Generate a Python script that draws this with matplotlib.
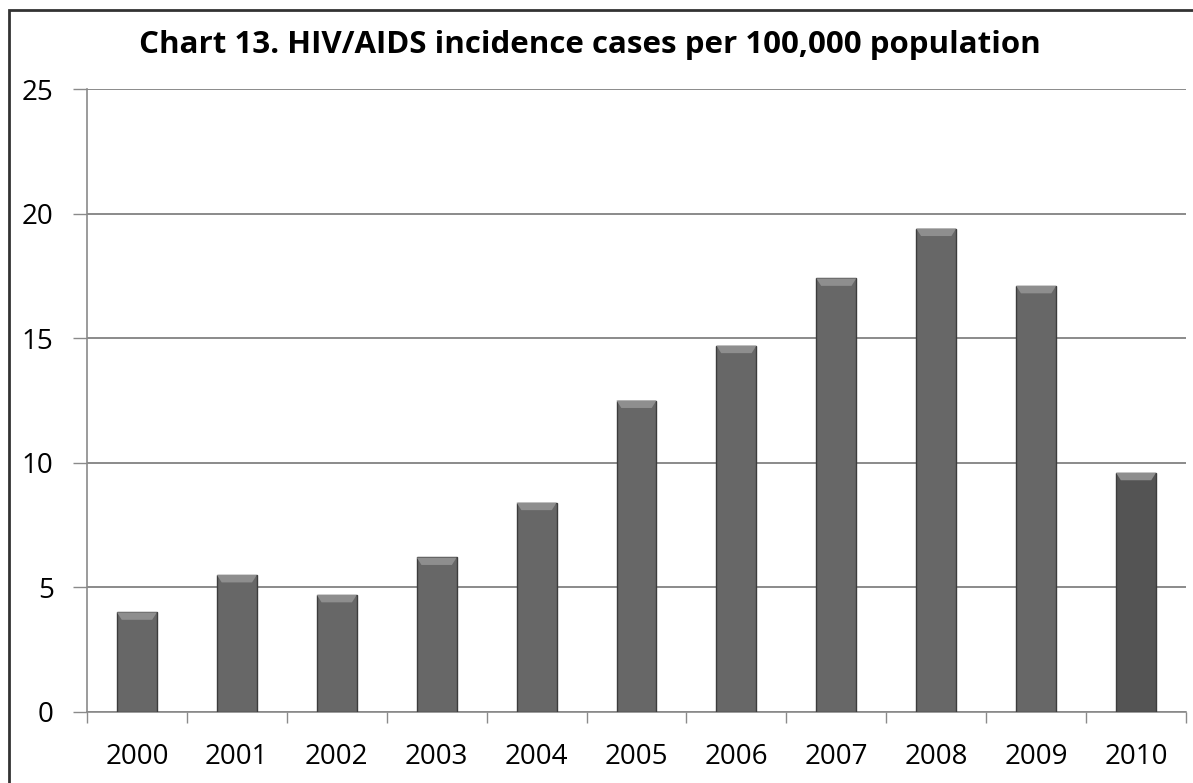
import matplotlib.pyplot as plt
import matplotlib.patches as mpatches
import numpy as np

years = ['2000', '2001', '2002', '2003', '2004', '2005',
         '2006', '2007', '2008', '2009', '2010']
cases = [4.0, 5.5, 4.7, 6.2, 8.4, 12.5, 14.7, 17.4, 19.4, 17.1, 9.6]

plt.rcParams['font.family'] = ['Open Sans', 'DejaVu Sans']

W, H = 1193, 783
fig = plt.figure(figsize=(W / 100, H / 100), dpi=100)
ax = fig.add_axes([87 / W, 1 - 712 / H, (1186 - 87) / W, (712 - 89) / H])

x = np.arange(len(years))
colors = ['#676767'] * (len(years) - 1) + ['#545454']
bars = ax.bar(x, cases, width=0.4, color=colors, edgecolor='#3c3c3c',
              linewidth=1.0, zorder=3)

# light bevel on top of each bar
for b in bars:
    bx, bw, bh = b.get_x(), b.get_width(), b.get_height()
    ax.add_patch(mpatches.Polygon(
        [(bx, bh), (bx + bw, bh), (bx + bw * 0.88, bh - 0.3), (bx + bw * 0.12, bh - 0.3)],
        closed=True, facecolor='#8e8e8e', edgecolor='none', zorder=4))

ax.set_xlim(-0.5, len(years) - 0.5)
ax.set_ylim(0, 25)
ax.set_yticks([0, 5, 10, 15, 20, 25])
ax.yaxis.grid(True, color='#8a8a8a', linewidth=1.4, zorder=0)
ax.set_axisbelow(True)

ax.set_xticks(x)
ax.set_xticklabels(years)
ax.set_xticks(np.arange(-0.5, len(years)), minor=True)
ax.tick_params(axis='x', which='major', length=0, pad=22, labelsize=20)
ax.tick_params(axis='x', which='minor', length=8, width=1, color='#8a8a8a')
ax.tick_params(axis='y', length=10, width=1, color='#8a8a8a', pad=14, labelsize=20)

for s in ['top', 'right']:
    ax.spines[s].set_visible(False)
for s in ['left', 'bottom']:
    ax.spines[s].set_color('#8a8a8a')
    ax.spines[s].set_linewidth(1.2)

fig.text(590 / W, 1 - 45 / H, 'Chart 13. HIV/AIDS incidence cases per 100,000 population',
         ha='center', va='center', fontsize=22.5, fontweight='bold')

fig.patches.append(mpatches.Rectangle((9 / W, -0.05), 1.2, 1 - 10 / H + 0.05,
                                      transform=fig.transFigure, fill=False,
                                      edgecolor='#333333', linewidth=2))

fig.savefig('out.png', dpi=100)
